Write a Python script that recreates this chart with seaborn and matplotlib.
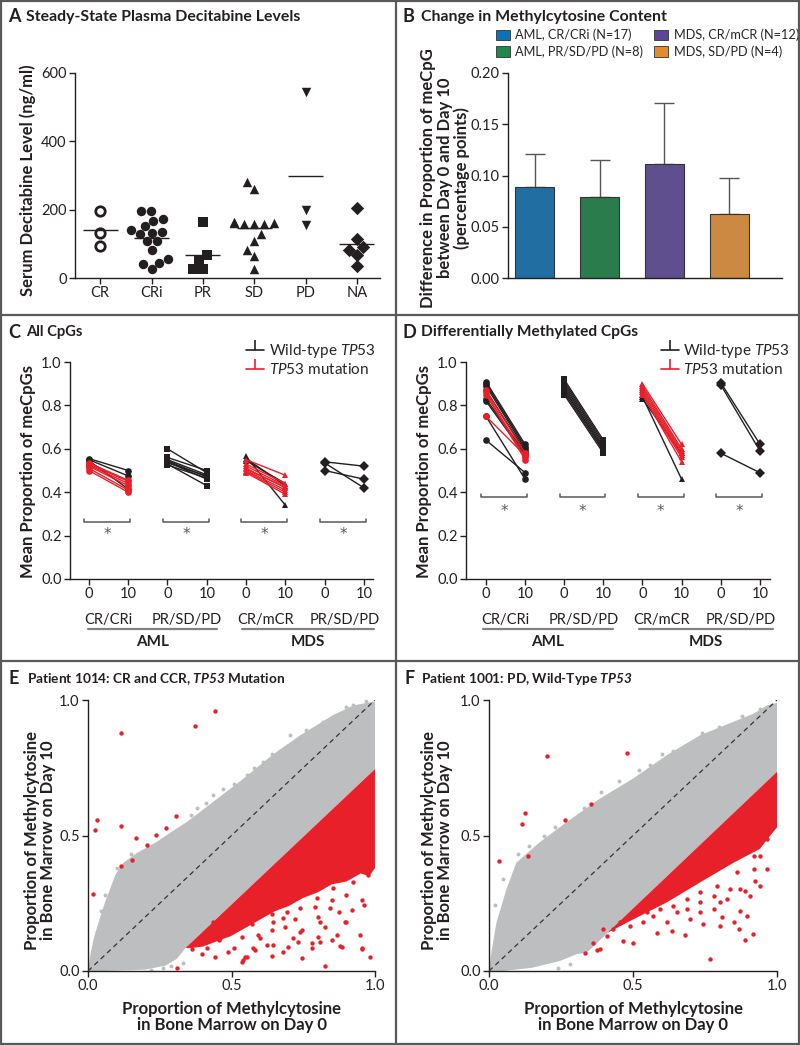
import matplotlib
matplotlib.use("Agg")
import matplotlib.pyplot as plt
from matplotlib.lines import Line2D
from matplotlib.patches import Patch, Rectangle
import numpy as np
import pandas as pd
import seaborn as sns

# ---------------- data ----------------
# A: steady-state plasma decitabine (ng/ml) by response
A_cats = ["CR", "CRi", "PR", "SD", "PD", "NA"]
A_CR = [196, 131, 93]
A_CRi = [195, 195, 172, 168, 152, 140, 136, 132, 128, 108, 108, 83, 55, 45, 40, 27]
A_PR = [164, 67, 52, 27, 27]
A_SD = [280, 260, 163, 161, 160, 159, 158, 157, 130, 109, 83, 63, 26]
A_PD = [545, 199, 156]
A_NA = [206, 114, 90, 83, 68, 34]

# B: change in methylcytosine content (mean, upper SD)
B_groups = ["AML, CR/CRi (N=17)", "AML, PR/SD/PD (N=8)", "MDS, CR/mCR (N=12)", "MDS, SD/PD (N=4)"]
B_means = [0.0885, 0.0788, 0.1109, 0.0626]
B_err = [0.0324, 0.0359, 0.0603, 0.0346]

# C/D: paired day 0 / day 10 values, mutation flag (1 = TP53 mutation)
CD_subgroups = ["CR/CRi", "PR/SD/PD", "CR/mCR", "PR/SD/PD"]
CD_days = ["0", "10"]

C_aml_cr_d0 = [0.555, 0.550, 0.545, 0.535, 0.530, 0.525, 0.520, 0.510, 0.500]
C_aml_cr_d10 = [0.500, 0.475, 0.415, 0.455, 0.450, 0.440, 0.430, 0.410, 0.400]
C_aml_cr_mut = [0, 0, 0, 1, 1, 1, 1, 1, 1]
C_aml_pr_d0 = [0.600, 0.560, 0.550, 0.545, 0.540, 0.535, 0.530, 0.525]
C_aml_pr_d10 = [0.490, 0.500, 0.480, 0.470, 0.460, 0.475, 0.430, 0.465]
C_aml_pr_mut = [0, 0, 0, 0, 0, 0, 0, 0]
C_mds_cr_d0 = [0.565, 0.555, 0.545, 0.550, 0.530, 0.520, 0.510, 0.505, 0.500, 0.495, 0.490]
C_mds_cr_d10 = [0.340, 0.430, 0.440, 0.478, 0.440, 0.430, 0.420, 0.425, 0.410, 0.400, 0.390]
C_mds_cr_mut = [0, 0, 0, 1, 1, 1, 1, 1, 1, 1, 1]
C_mds_pd_d0 = [0.540, 0.535, 0.500]
C_mds_pd_d10 = [0.520, 0.420, 0.460]
C_mds_pd_mut = [0, 0, 0]

D_aml_cr_d0 = [0.91, 0.90, 0.89, 0.87, 0.83, 0.82, 0.75, 0.64, 0.87, 0.86, 0.85, 0.75]
D_aml_cr_d10 = [0.62, 0.61, 0.60, 0.59, 0.58, 0.57, 0.46, 0.49, 0.58, 0.56, 0.55, 0.57]
D_aml_cr_mut = [0, 0, 0, 0, 0, 0, 0, 0, 1, 1, 1, 1]
D_aml_pr_d0 = [0.92, 0.91, 0.90, 0.89, 0.88, 0.87, 0.86, 0.85]
D_aml_pr_d10 = [0.64, 0.63, 0.62, 0.61, 0.60, 0.60, 0.59, 0.58]
D_aml_pr_mut = [0, 0, 0, 0, 0, 0, 0, 0]
D_mds_cr_d0 = [0.84, 0.83, 0.90, 0.89, 0.88, 0.87, 0.86, 0.85, 0.85]
D_mds_cr_d10 = [0.46, 0.58, 0.62, 0.60, 0.59, 0.58, 0.57, 0.56, 0.54]
D_mds_cr_mut = [0, 0, 1, 1, 1, 1, 1, 1, 1]
D_mds_pd_d0 = [0.905, 0.895, 0.58]
D_mds_pd_d10 = [0.622, 0.591, 0.49]
D_mds_pd_mut = [0, 0, 0]

# E/F: outline of the dense point clouds plus the scattered points around them
E_gray_x = [0.0, 0.008, 0.02, 0.037, 0.06, 0.078, 0.095, 0.124, 0.17, 0.24, 0.30, 0.345, 0.437, 0.53, 0.646,
            0.74, 0.855, 0.925, 1.0, 1.0, 0.34, 0.31, 0.27, 0.2, 0.05]
E_gray_y = [0.0, 0.059, 0.12, 0.18, 0.256, 0.305, 0.354, 0.40, 0.435, 0.477, 0.52, 0.55, 0.625, 0.70, 0.80,
            0.87, 0.945, 0.98, 0.995, 0.745, 0.085, 0.045, 0.02, 0.005, 0.0]
E_red_x = [0.34, 1.0, 1.0, 0.98, 0.95, 0.90, 0.85, 0.80, 0.75, 0.70, 0.65, 0.60, 0.55, 0.50, 0.45, 0.40, 0.36]
E_red_y = [0.085, 0.745, 0.38, 0.35, 0.36, 0.33, 0.32, 0.29, 0.27, 0.24, 0.22, 0.19, 0.16, 0.13, 0.11, 0.09, 0.085]
E_gray_px = [0.03, 0.06, 0.38, 0.437, 0.507, 0.553, 0.611, 0.67, 0.704, 0.90, 0.925, 0.22, 0.26, 0.15,
             0.36, 0.41, 0.47, 0.58, 0.64, 0.76, 0.82, 0.97, 0.10, 0.045, 0.33, 0.29]
E_gray_py = [0.145, 0.28, 0.60, 0.65, 0.69, 0.723, 0.772, 0.81, 0.87, 0.975, 0.98, 0.004, 0.012, 0.43,
             0.575, 0.62, 0.67, 0.75, 0.80, 0.89, 0.92, 0.995, 0.38, 0.22, 0.03, 0.02]
E_red_px = [0.443, 0.374, 0.115, 0.031, 0.023, 0.016, 0.115, 0.167, 0.205, 0.238, 0.271, 0.306, 0.115, 0.153,
            0.31, 0.983, 0.826, 0.745, 0.954, 0.878, 0.78, 0.948, 0.977, 0.971, 0.925, 0.90, 0.843, 0.809,
            0.739, 0.693, 0.646, 0.60, 0.553, 0.541, 0.507, 0.46, 0.414, 0.39, 0.855, 0.797, 0.739, 0.681,
            0.96, 0.90, 0.867, 0.81, 0.716, 0.646, 0.576, 0.483, 0.437, 0.96, 0.913,
            0.535, 0.547, 0.64, 0.681, 0.884, 0.954, 0.733, 0.779, 0.802, 0.849, 0.698, 0.622, 0.582,
            0.489, 0.443, 0.396, 0.361, 0.594, 0.640, 0.686, 0.745, 0.826, 0.896, 0.919, 0.954, 0.873,
            0.803, 0.536, 0.489, 0.455, 0.571, 0.722, 0.791, 0.849, 0.640, 0.686]
E_red_py = [0.959, 0.904, 0.879, 0.557, 0.52, 0.283, 0.535, 0.492, 0.465, 0.502, 0.529, 0.572, 0.389, 0.41,
            0.01, 0.053, 0.02, 0.049, 0.084, 0.092, 0.084, 0.133, 0.354, 0.379, 0.33, 0.28, 0.231, 0.182,
            0.145, 0.219, 0.182, 0.12, 0.053, 0.041, 0.084, 0.12, 0.084, 0.108, 0.305, 0.268, 0.231, 0.194,
            0.245, 0.18, 0.133, 0.108, 0.12, 0.096, 0.084, 0.157, 0.182, 0.40, 0.379,
            0.034, 0.05, 0.055, 0.071, 0.089, 0.083, 0.108, 0.102, 0.126, 0.114, 0.089, 0.095, 0.077,
            0.071, 0.052, 0.064, 0.083, 0.132, 0.150, 0.162, 0.150, 0.162, 0.181, 0.224, 0.261, 0.218,
            0.199, 0.126, 0.138, 0.114, 0.175, 0.193, 0.236, 0.261, 0.212, 0.249]

F_gray_x = [0.0, 0.01, 0.026, 0.06, 0.095, 0.176, 0.27, 0.385, 0.50, 0.617, 0.733, 0.85, 0.92, 0.965, 1.0,
            1.0, 0.339, 0.304, 0.246, 0.15, 0.05]
F_gray_y = [0.0, 0.08, 0.179, 0.30, 0.40, 0.475, 0.55, 0.636, 0.71, 0.796, 0.87, 0.92, 0.95, 0.98, 0.99,
            0.735, 0.068, 0.062, 0.037, 0.012, 0.0]
F_red_x = [0.339, 1.0, 1.0, 0.977, 0.94, 0.85, 0.733, 0.617, 0.5, 0.41, 0.36]
F_red_y = [0.068, 0.735, 0.53, 0.50, 0.45, 0.40, 0.327, 0.253, 0.19, 0.14, 0.09]
F_gray_px = [0.02, 0.10, 0.19, 0.33, 0.45, 0.52, 0.60, 0.68, 0.74, 0.88, 0.24, 0.28,
             0.05, 0.14, 0.23, 0.39, 0.56, 0.64, 0.80, 0.94]
F_gray_py = [0.245, 0.43, 0.50, 0.60, 0.70, 0.74, 0.80, 0.83, 0.88, 0.94, 0.01, 0.025,
             0.34, 0.46, 0.53, 0.66, 0.76, 0.81, 0.90, 0.965]
F_red_px = [0.2, 0.478, 0.353, 0.126, 0.116, 0.263, 0.136, 0.035, 0.766, 0.89, 0.917, 0.867, 0.81, 0.742,
            0.681, 0.635, 0.582, 0.501, 0.464, 0.374, 0.333, 0.925, 0.89, 0.872, 0.803, 0.733, 0.698,
            0.965, 0.942, 0.838, 0.78, 0.919,
            0.408, 0.432, 0.49, 0.536, 0.571, 0.617, 0.652, 0.687, 0.733, 0.78, 0.826, 0.872, 0.907,
            0.942, 0.965, 0.919, 0.861, 0.791, 0.733, 0.687, 0.64, 0.594, 0.548, 0.501, 0.455, 0.397,
            0.362, 0.385, 0.849, 0.896, 0.803]
F_red_py = [0.794, 0.805, 0.617, 0.584, 0.543, 0.556, 0.426, 0.405, 0.046, 0.115, 0.136, 0.154, 0.198, 0.173,
            0.132, 0.148, 0.142, 0.102, 0.111, 0.078, 0.068, 0.333, 0.296, 0.222, 0.253, 0.216, 0.191,
            0.488, 0.426, 0.302, 0.278, 0.377,
            0.13, 0.154, 0.167, 0.179, 0.204, 0.179, 0.216, 0.228, 0.253, 0.228, 0.265, 0.302, 0.278,
            0.315, 0.377, 0.426, 0.364, 0.315, 0.29, 0.265, 0.241, 0.228, 0.216, 0.204, 0.179, 0.154,
            0.105, 0.08, 0.179, 0.204, 0.167]

# ---------------- style ----------------
sns.set_theme(style="ticks")
FONT = ["Lato", "DejaVu Sans"]
plt.rcParams["font.family"] = FONT
plt.rcParams["mathtext.fontset"] = "custom"
plt.rcParams["mathtext.rm"] = "Lato"
plt.rcParams["mathtext.it"] = "Lato:italic"
plt.rcParams["mathtext.bf"] = "Lato:bold"
plt.rcParams["mathtext.bfit"] = "Lato:bold:italic"

INK = "#231f20"
RED = "#e8202a"
CLOUD = "#bcbec0"
FRAME = "#58595b"
B_colors = ["#0a72b8", "#1d8a4b", "#5b4499", "#e38a2a"]
A_markers = ["o", "o", "s", "^", "v", "D"]
CD_markers = ["o", "s", "^", "D"]
TICK = 10.5
LABEL = 12

W, H = 800, 1045


def box(l, t, r, b):
    return [l / W, 1 - b / H, (r - l) / W, (b - t) / H]


def fx(x):
    return x / W


def fy(y):
    return 1 - y / H


def style_axes(ax):
    sns.despine(ax=ax)
    for s in ("left", "bottom"):
        ax.spines[s].set_color(INK)
        ax.spines[s].set_linewidth(1.0)
    ax.tick_params(direction="out", length=4, width=1, color=INK, labelsize=TICK, labelcolor=INK, pad=2)
    ax.set_xlabel("")
    ax.set_ylabel("")


fig = plt.figure(figsize=(8, 10.45), dpi=100)

# ---------------- A ----------------
axA = fig.add_axes(box(75, 73, 380, 278))
A_values = [A_CR, A_CRi, A_PR, A_SD, A_PD, A_NA]
dfA = pd.DataFrame({
    "response": [c for c, v in zip(A_cats, A_values) for _ in v],
    "level": [x for v in A_values for x in v],
})
for cat, m in zip(A_cats, A_markers):
    sub = dfA[dfA["response"] == cat]
    if cat == "CR":
        kw = dict(color="white", edgecolor=INK, linewidth=2.0)
    else:
        kw = dict(color=INK, linewidth=0)
    sns.swarmplot(data=sub, x="response", y="level", order=A_cats, marker=m, size=6.8, ax=axA, **kw)
means = dfA.groupby("response", sort=False)["level"].mean().reindex(A_cats)
pos = np.arange(len(A_cats))
axA.hlines(means.values, pos - 0.34, pos + 0.34, color=INK, lw=1, zorder=5)
axA.set_xlim(-0.49, 5.45)
axA.set_ylim(0, 600)
axA.set_yticks([0, 200, 400, 600])
style_axes(axA)

# ---------------- B ----------------
axB = fig.add_axes(box(508, 73, 782, 278))
sns.barplot(x=B_groups, y=B_means, hue=B_groups, palette=B_colors, legend=False, width=0.6,
            edgecolor="#333333", linewidth=0.8, ax=axB, zorder=2)
axB.errorbar(np.arange(len(B_groups)), B_means, yerr=[np.zeros(len(B_err)), B_err], fmt="none",
             ecolor="#555555", elinewidth=1, capsize=7.5, capthick=1, zorder=1)
axB.set_xlim(-0.41, 3.81)
axB.set_ylim(0, 0.2)
axB.set_yticks(np.arange(0, 0.201, 0.05))
axB.set_yticklabels([f"{v:.2f}" for v in np.arange(0, 0.201, 0.05)])
style_axes(axB)
axB.set_xticks([])
handles = [Patch(facecolor=c, edgecolor="#333333", lw=0.6, label=g) for c, g in zip(B_colors, B_groups)]
axB.legend(handles=handles, loc="upper left", bbox_to_anchor=(-0.045, 1.215), ncol=2, frameon=False,
           fontsize=9.2, handlelength=1.1, handleheight=0.9, handletextpad=0.4, columnspacing=0.9,
           labelspacing=0.3, borderpad=0, borderaxespad=0)


# ---------------- C / D ----------------
def paired_panel(ax, groups, xlim, bracket_y, star_y, under, legend_x):
    rows = []
    for g, (d0, d10, mut) in enumerate(groups):
        for i, (a, b, m) in enumerate(zip(d0, d10, mut)):
            rows.append(dict(group=g, pid=f"{g}-{i}", mut=m, pos=2 * g, value=a))
            rows.append(dict(group=g, pid=f"{g}-{i}", mut=m, pos=2 * g + 1, value=b))
    df = pd.DataFrame(rows)
    for g, marker in enumerate(CD_markers):
        for m, col in ((0, INK), (1, RED)):
            sub = df[(df["group"] == g) & (df["mut"] == m)]
            if sub.empty:
                continue
            sns.lineplot(data=sub, x="pos", y="value", units="pid", estimator=None, color=col,
                         marker=marker, markersize=4.8, markeredgewidth=0, lw=1.0, ax=ax, legend=False)
    ax.set_xlim(*xlim)
    ax.set_ylim(0, 1)
    ax.set_xticks(range(8))
    ax.set_xticklabels(CD_days * 4)
    ax.set_yticks(np.arange(0, 1.01, 0.2))
    ax.set_yticklabels([f"{v:.1f}" for v in np.arange(0, 1.01, 0.2)])
    style_axes(ax)
    ax.tick_params(axis="x", labelsize=10.5)
    trans = ax.get_xaxis_transform()
    for g in range(4):
        x0, x1 = 2 * g - 0.12, 2 * g + 1.05
        ax.plot([x0, x0, x1, x1], [bracket_y + 0.015, bracket_y, bracket_y, bracket_y + 0.015],
                color=FRAME, lw=1.1)
        ax.text(2 * g + 0.47, star_y, "*", ha="center", va="baseline", fontsize=11, color=FRAME,
                family="DejaVu Sans")
        ax.text(2 * g + 0.5, -0.189, CD_subgroups[g], ha="center", va="center", transform=trans,
                fontsize=10.5, color=INK)
    for (a, b), name in zip(under, ["AML", "MDS"]):
        ax.plot([a, b], [-0.232, -0.232], transform=trans, clip_on=False, color="#808285", lw=1.6)
        ax.text((a + b) / 2, -0.29, name, ha="center", va="center", transform=trans, fontsize=11,
                weight="bold", color=INK)
    leg = [Line2D([], [], color=INK, marker=2, markersize=7, mew=1.2, lw=1.2, label="Wild-type $\\mathit{TP53}$"),
           Line2D([], [], color=RED, marker=2, markersize=7, mew=1.2, lw=1.2, label="$\\mathit{TP53}$ mutation")]
    ax.legend(handles=leg, loc="upper left", bbox_to_anchor=(legend_x, 1.09), frameon=False, fontsize=11,
              handlelength=1.2, handletextpad=0.3, labelspacing=0.1, borderpad=0, borderaxespad=0)


axC = fig.add_axes(box(70, 362, 373, 579))
paired_panel(axC,
             [(C_aml_cr_d0, C_aml_cr_d10, C_aml_cr_mut), (C_aml_pr_d0, C_aml_pr_d10, C_aml_pr_mut),
              (C_mds_cr_d0, C_mds_cr_d10, C_mds_cr_mut), (C_mds_pd_d0, C_mds_pd_d10, C_mds_pd_mut)],
             (-0.48, 7.23), 0.263, 0.185, [(-0.03, 3.26), (3.9, 7.26)], 0.58)

axD = fig.add_axes(box(466, 362, 770, 579))
paired_panel(axD,
             [(D_aml_cr_d0, D_aml_cr_d10, D_aml_cr_mut), (D_aml_pr_d0, D_aml_pr_d10, D_aml_pr_mut),
              (D_mds_cr_d0, D_mds_cr_d10, D_mds_cr_mut), (D_mds_pd_d0, D_mds_pd_d10, D_mds_pd_mut)],
             (-0.51, 7.26), 0.379, 0.292, [(-0.08, 3.25), (3.91, 7.34)], 0.64)


# ---------------- E / F ----------------
def cloud_panel(ax, gx, gy, rx, ry, gpx, gpy, rpx, rpy):
    ax.fill(gx, gy, color=CLOUD, lw=0, zorder=1)
    ax.fill(rx, ry, color=RED, lw=0, zorder=2)
    sns.scatterplot(x=gpx, y=gpy, color=CLOUD, s=8, linewidth=0, ax=ax, zorder=1)
    sns.scatterplot(x=rpx, y=rpy, color=RED, s=10, linewidth=0, ax=ax, zorder=3)
    ax.plot([0, 1], [0, 1], ls=(0, (4, 3)), color="#333333", lw=0.9, zorder=4)
    ax.set_xlim(0, 1)
    ax.set_ylim(0, 1)
    ax.set_xticks([0, 0.5, 1])
    ax.set_yticks([0, 0.5, 1])
    ax.set_xticklabels(["0.0", "0.5", "1.0"])
    ax.set_yticklabels(["0.0", "0.5", "1.0"])
    style_axes(ax)


axE = fig.add_axes(box(88, 700, 375, 971))
cloud_panel(axE, E_gray_x, E_gray_y, E_red_x, E_red_y, E_gray_px, E_gray_py, E_red_px, E_red_py)
axF = fig.add_axes(box(489, 700, 777, 971))
cloud_panel(axF, F_gray_x, F_gray_y, F_red_x, F_red_y, F_gray_px, F_gray_py, F_red_px, F_red_py)

# ---------------- titles and axis labels ----------------
titles = [
    (8, 26, 17, "A", "Steady-State Plasma Decitabine Levels", 11.4),
    (403, 421, 17, "B", "Change in Methylcytosine Content", 11.4),
    (8, 26, 332, "C", "All CpGs", 10.6),
    (403, 421, 332, "D", "Differentially Methylated CpGs", 11.2),
    (9, 27, 679, "E", "Patient 1014: CR and CCR, $\\mathbfit{TP53}$ Mutation", 9.8),
    (404, 421, 679, "F", "Patient 1001: PD, Wild-Type $\\mathbfit{TP53}$", 9.8),
]
for lx, tx, y, letter, text, size in titles:
    fig.text(fx(lx), fy(y), letter, fontsize=13, weight="bold", va="center", color=INK)
    fig.text(fx(tx), fy(y), text, fontsize=size, weight="bold", va="center", color=INK)

lab = dict(fontsize=LABEL, weight="bold", ha="center", va="center", color=INK, multialignment="center")
fig.text(fx(28), fy(180), "Serum Decitabine Level (ng/ml)", rotation=90, **lab)
fig.text(fx(445), fy(178), "Difference in Proportion of meCpG\nbetween Day 0 and Day 10\n(percentage points)",
         rotation=90, linespacing=1.05, **lab)
fig.text(fx(28), fy(472), "Mean Proportion of meCpGs", rotation=90, **lab)
fig.text(fx(424), fy(472), "Mean Proportion of meCpGs", rotation=90, **lab)
for x in (40, 437):
    fig.text(fx(x), fy(840), "Proportion of Methylcytosine\nin Bone Marrow on Day 10", rotation=90,
             linespacing=1.0, **lab)
for x in (232, 633):
    fig.text(fx(x), fy(1017), "Proportion of Methylcytosine\nin Bone Marrow on Day 0", linespacing=1.05, **lab)

# ---------------- frame and dividers ----------------
fig.add_artist(Rectangle((1 / W, 1 / H), 1 - 2 / W, 1 - 2 / H, transform=fig.transFigure, fill=False,
                         edgecolor=FRAME, lw=1.6))
for y in (315, 661):
    fig.add_artist(Line2D([0, 1], [fy(y), fy(y)], transform=fig.transFigure, color=FRAME, lw=1.6))
fig.add_artist(Line2D([fx(396), fx(396)], [0, 1], transform=fig.transFigure, color=FRAME, lw=1.6))

fig.savefig("out.png", dpi=100)
